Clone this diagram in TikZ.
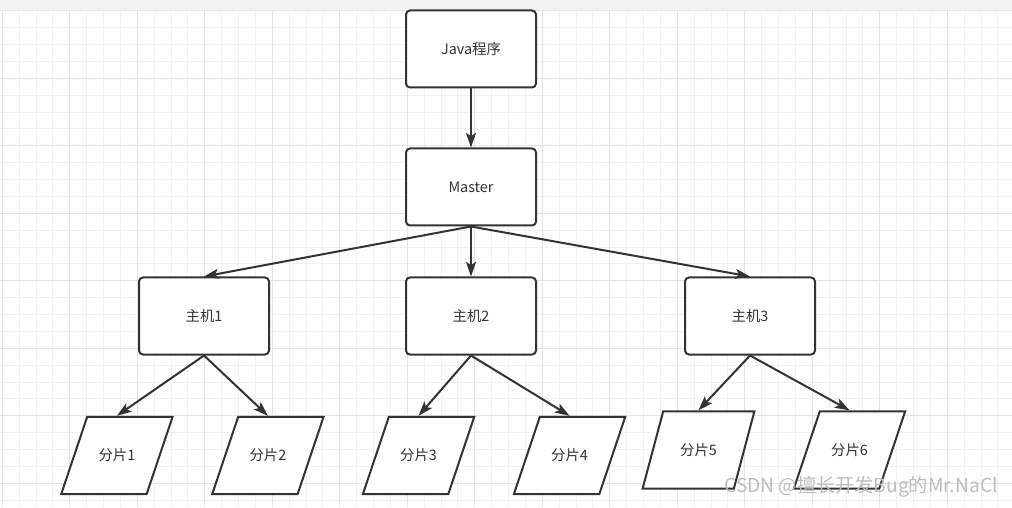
\documentclass[tikz,border=0pt]{standalone}
\usepackage{fontspec}
\setmainfont{Noto Sans CJK SC}
\usetikzlibrary{arrows.meta,shapes.geometric}
\definecolor{inkgray}{HTML}{333333}
\definecolor{gridminor}{HTML}{F1F1F1}
\definecolor{gridmajor}{HTML}{E4E4E4}
\definecolor{topbar}{HTML}{F2F2F2}
\definecolor{markgray}{HTML}{BDBDBD}
\tikzset{
  box/.style = {shape=rectangle, draw=inkgray, fill=white, text=inkgray,
    line width=1.5pt, rounded corners=3pt,
    minimum width=97.5pt, minimum height=57.75pt,
    font=\fontsize{10.8}{13}\selectfont},
  shard/.style = {box, shape=trapezium, rounded corners=0pt,
    trapezium left angle=48, trapezium right angle=132,
    trapezium stretches=true, minimum width=84pt, minimum height=58pt}
}
\begin{document}
\begin{tikzpicture}[x=0.75pt, y=0.75pt,
  parent anchor=south, child anchor=north,
  edge from parent/.style = {draw=inkgray, line width=1.5pt,
    -{Stealth[length=11pt, width=7.5pt, inset=2.5pt]}},
  level 1/.style = {level distance=103.5pt},
  level 2/.style = {level distance=96.75pt, sibling distance=204.75pt},
  level 3/.style = {level distance=104.6pt, sibling distance=113.25pt}]
  \useasboundingbox (0,0) rectangle (1012,507);
  % grid paper
  \fill[white] (0,0) rectangle (1012,507);
  \fill[topbar] (0,496.1) rectangle (1012,507);
  \begin{scope}[shift={(2.3,496.1)}]
    \draw[gridminor, line width=0.75pt, step={(16.875,16.87)}] (-2.3,-496.1) grid (1009.7,0);
    \draw[gridmajor, line width=0.75pt, step={(67.5,67.48)}] (-2.3,-496.1) grid (1009.7,0);
  \end{scope}
  % tree
  \node[box] (java) at (471,458) {Java程序}
    child { node[box] (master) {Master}
      child[xshift=4.5pt] { node[box] (h1) {主机1}
        child[xshift=-8.7pt] { node[shard] (s1) {分片1} }
        child[xshift=-8.7pt] { node[shard] (s2) {分片2} } }
      child { node[box] (h2) {主机2}
        child[xshift=17.3pt] { node[shard] (s3) {分片3} }
        child[xshift=17.3pt] { node[shard] (s4) {分片4} } }
      child[xshift=4.5pt] { node[box] (h3) {主机3}
        child[xshift=18pt, yshift=4.1pt] { node[shard,
          trapezium left angle=59, trapezium right angle=121] (s5) {分片5} }
        child[xshift=18pt, yshift=4.1pt] { node[shard] (s6) {分片6} } } };
  \node[text=markgray, font=\fontsize{14.4}{16}\selectfont] (mark) at (861,20) {CSDN @擅长开发Bug的Mr.NaCl};
\end{tikzpicture}
\end{document}
